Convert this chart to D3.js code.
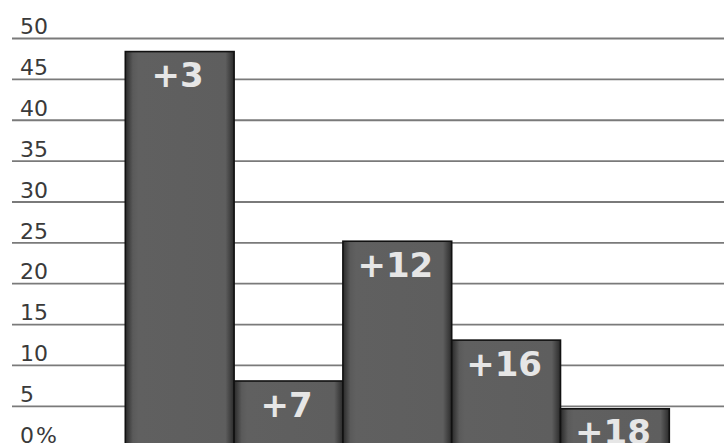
<!DOCTYPE html>
<html>
<head>
<meta charset="utf-8">
<script src="https://cdn.jsdelivr.net/npm/d3@7/dist/d3.min.js"></script>
<style>
  html, body { margin: 0; padding: 0; background: #fff; overflow: hidden; }
  svg { display: block; }
</style>
</head>
<body>
<svg id="chart" width="724" height="443"></svg>
<script>
const categories = ["A", "B", "C", "D", "E"];
const values = [48.4, 8.1, 25.2, 13.1, 4.7];
const barLabels = ["+3", "+7", "+12", "+16", "+18"];
const tickValues = [0, 5, 10, 15, 20, 25, 30, 35, 40, 45, 50];
const tickLabels = ["0%", "5", "10", "15", "20", "25", "30", "35", "40", "45", "50"];

const svg = d3.select("#chart");
const W = 724, H = 443;

const y = d3.scaleLinear().domain([0, 50]).range([447.2, 38.5]);
const x = d3.scaleBand().domain(categories).range([125.3, 669.3]).padding(0);

// gradient for bars
const defs = svg.append("defs");
const grad = defs.append("linearGradient").attr("id", "barGrad")
  .attr("x1", "0").attr("x2", "1").attr("y1", "0").attr("y2", "0");
grad.append("stop").attr("offset", "0%").attr("stop-color", "#2a2a2a");
grad.append("stop").attr("offset", "7%").attr("stop-color", "#5a5a5a");
grad.append("stop").attr("offset", "12%").attr("stop-color", "#606060");
grad.append("stop").attr("offset", "92%").attr("stop-color", "#5e5e5e");
grad.append("stop").attr("offset", "97%").attr("stop-color", "#3e3e3e");
grad.append("stop").attr("offset", "100%").attr("stop-color", "#2a2a2a");

// gridlines
svg.append("g").selectAll("line").data(tickValues).join("line")
  .attr("x1", 12).attr("x2", W)
  .attr("y1", d => y(d)).attr("y2", d => y(d))
  .attr("stroke", "#7a7a7a").attr("stroke-width", 1.8);

// tick labels
svg.append("g").selectAll("text").data(tickValues).join("text")
  .attr("x", 20).attr("y", d => y(d) - 4.3)
  .attr("font-family", "DejaVu Sans, Verdana, sans-serif")
  .attr("font-size", 22)
  .attr("letter-spacing", d => d === 0 ? 2 : 0)
  .attr("fill", "#3a3a3a")
  .text((d, i) => tickLabels[i]);

// bars
svg.append("g").selectAll("rect").data(values).join("rect")
  .attr("x", (d, i) => x(categories[i]))
  .attr("y", d => y(d))
  .attr("width", x.bandwidth())
  .attr("height", d => y(0) - y(d) + 20)
  .attr("fill", "url(#barGrad)")
  .attr("stroke", "#111")
  .attr("stroke-width", 1.6);

// bar labels
svg.append("g").selectAll("text").data(values).join("text")
  .attr("x", (d, i) => x(categories[i]) + x.bandwidth() / 2 - 2)
  .attr("y", d => y(d) + 35.6)
  .attr("text-anchor", "middle")
  .attr("font-family", "DejaVu Sans, Verdana, sans-serif")
  .attr("font-weight", "bold")
  .attr("font-size", 34)
  .attr("fill", "#e6e6e6")
  .text((d, i) => barLabels[i]);
</script>
</body>
</html>
